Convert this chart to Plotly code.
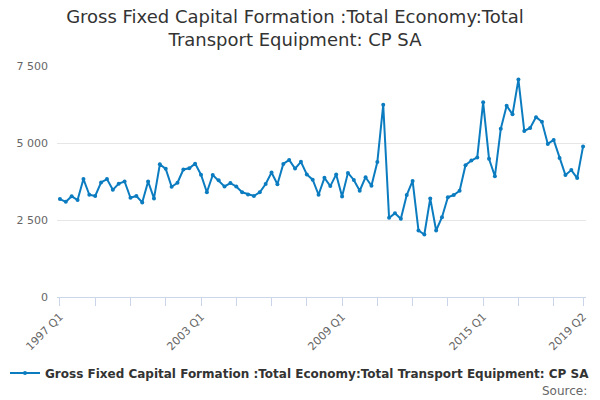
import plotly.graph_objects as go

# Quarterly series, 1997 Q1 - 2019 Q2
years = list(range(1997, 2020))
quarters = [f"{y} Q{q}" for y in years for q in range(1, 5)][:90]

values = [3180, 3090, 3270, 3150, 3830, 3320, 3280, 3720, 3830, 3480,
          3680, 3750, 3220, 3280, 3070, 3750, 3200, 4310, 4160, 3580,
          3710, 4140, 4180, 4330, 3970, 3400, 3960, 3790, 3590, 3700,
          3590, 3400, 3330, 3280, 3400, 3670, 4040, 3660, 4320, 4450,
          4170, 4390, 3980, 3810, 3320, 3870, 3600, 3980, 3260, 4030,
          3800, 3450, 3890, 3610, 4380, 6240, 2570, 2720, 2540, 3310,
          3770, 2160, 2030, 3200, 2160, 2590, 3240, 3310, 3450, 4280,
          4430, 4530, 6320, 4490, 3920, 5460, 6210, 5930, 7060, 5390,
          5490, 5840, 5690, 4970, 5100, 4510, 3960, 4120, 3860, 4890]

series_name = "Gross Fixed Capital Formation :Total Economy:Total Transport Equipment: CP SA"
labelled = ["1997 Q1", "2003 Q1", "2009 Q1", "2015 Q1", "2019 Q2"]

# tick marks every 6 quarters, labels only on a few
tick_cats = quarters[::6] + [quarters[-1]]
tick_text = [q if q in labelled else "" for q in tick_cats]

fig = go.Figure()
fig.add_trace(go.Scatter(
    x=quarters, y=values, mode="lines+markers", name=series_name,
    line=dict(color="#0c7cc0", width=2),
    marker=dict(color="#0c7cc0", size=4),
))

fig.update_layout(
    width=600, height=400,
    font=dict(family="DejaVu Sans", color="#333333"),
    title=dict(text="Gross Fixed Capital Formation :Total Economy:Total<br>Transport Equipment: CP SA",
               x=295 / 600, xanchor="center", xref="container", y=377 / 400, yref="container",
               yanchor="top", automargin=False,
               font=dict(family="DejaVu Sans", size=18, color="#333333")),
    plot_bgcolor="white", paper_bgcolor="white",
    margin=dict(l=57, r=14, t=66, b=103, autoexpand=False),
    showlegend=True,
    legend=dict(orientation="h", x=0.5, xref="container", xanchor="center",
                y=27 / 400, yref="container", yanchor="middle",
                font=dict(family="DejaVu Sans", size=12, color="#333333", weight="bold")),
    hovermode=False,
)

fig.update_xaxes(
    type="category", range=[-0.5, 89.5], automargin=False,
    tickmode="array", tickvals=tick_cats, ticktext=tick_text,
    tickangle=-45, tickfont=dict(size=11, color="#666666"),
    ticks="outside", ticklen=8, tickcolor="#ccd6eb",
    showline=True, linecolor="#ccd6eb", showgrid=False,
)
fig.update_yaxes(
    range=[0, 7500], tickvals=[0, 2500, 5000, 7500], automargin=False,
    ticktext=["0", "2 500", "5 000", "7 500"],
    tickfont=dict(size=11, color="#666666"),
    showgrid=True, gridcolor="#e6e6e6", zeroline=False, showline=False,
    ticks="", ticklabelstandoff=8,
)

fig.add_annotation(text="Source:", xref="paper", yref="paper", x=1.005, y=-0.37,
                   xanchor="right", yanchor="top", showarrow=False,
                   font=dict(size=12, color="#666666"))

fig.write_html("out.html", config={"displayModeBar": False},
               post_script="document.body.style.margin='0';")
